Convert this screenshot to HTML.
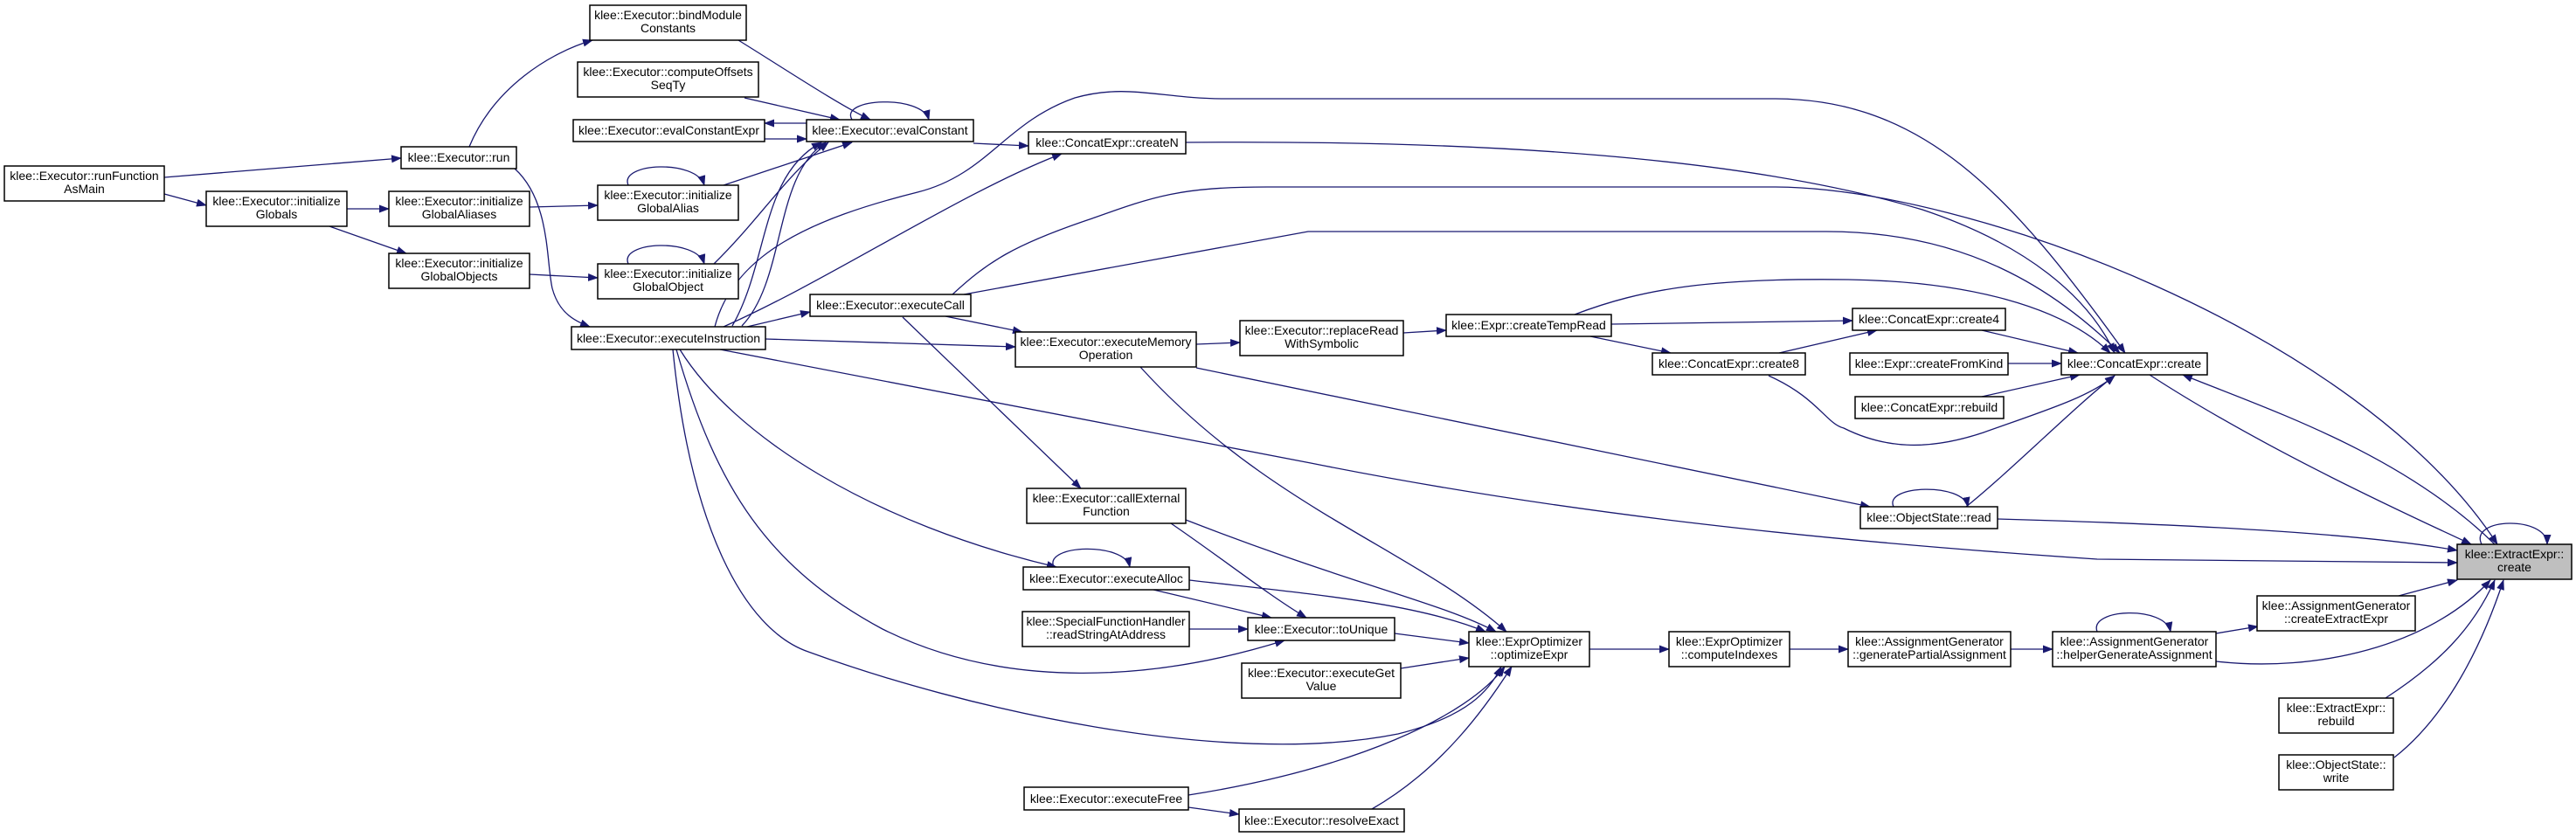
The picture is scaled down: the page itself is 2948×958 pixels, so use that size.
<!DOCTYPE html>
<html><head><meta charset="utf-8"><style>
html,body{margin:0;padding:0;background:#fff;}
svg{display:block;}
text{font-family:"Liberation Sans",Arial,sans-serif;font-size:14px;fill:#000;}
.e{fill:none;stroke:#191970;stroke-width:1.3;}
.n{fill:#fff;stroke:#000;stroke-width:1.5;}
</style></head><body>
<svg width="2948" height="958" viewBox="0 0 2948 958" xmlns="http://www.w3.org/2000/svg">
<defs><marker id="a" markerWidth="12" markerHeight="9" refX="11" refY="4.5" orient="auto" markerUnits="userSpaceOnUse"><path d="M0,0 L12,4.5 L0,9z" fill="#191970"/></marker></defs>
<g marker-end="url(#a)">
<path class="e" d="M188,203 L459,181"/>
<path class="e" d="M188,222 L236,235"/>
<path class="e" d="M397,239 L445,239"/>
<path class="e" d="M377,259 L465,290"/>
<path class="e" d="M606,237 L684,235"/>
<path class="e" d="M606,314 L684,318"/>
<path class="e" d="M537,168 C565,100 630,60 678,46"/>
<path class="e" d="M589,193 C630,230 625,300 632,330 C640,360 660,368 675,374"/>
<path class="e" d="M845,46 C900,80 960,120 996,137"/>
<path class="e" d="M852,112 L961,137"/>
<path class="e" d="M923,141 L875,141"/>
<path class="e" d="M875,159 L923,159"/>
<path class="e" d="M975,137 C960,112 1055,108 1063,137"/>
<path class="e" d="M719,212 C708,186 797,182 806,212"/>
<path class="e" d="M719,302 C708,276 797,272 806,302"/>
<path class="e" d="M828,212 L975,163"/>
<path class="e" d="M817,302 C870,250 900,200 948,163"/>
<path class="e" d="M838,373 C880,300 870,200 940,163"/>
<path class="e" d="M849,373 C900,320 885,200 945,163"/>
<path class="e" d="M855,374 L927,357"/>
<path class="e" d="M828,374 C950,320 1100,220 1215,176"/>
<path class="e" d="M818,374 C840,290 930,250 1050,220 C1130,200 1150,140 1230,112 C1290,95 1330,113 1400,113 L2030,113 C2200,113 2300,220 2432,404"/>
<path class="e" d="M1090,337 C1130,300 1160,280 1250,250 C1320,225 1350,214 1450,214 L2030,214 C2250,214 2700,380 2858,623"/>
<path class="e" d="M1103,337 L1497,265 L2090,265 C2250,265 2350,330 2426,404"/>
<path class="e" d="M1354,163 C1700,160 2000,180 2200,240 C2320,280 2390,340 2420,404"/>
<path class="e" d="M1114,164 L1177,167"/>
<path class="e" d="M876,388 L1162,397"/>
<path class="e" d="M1082,362 L1170,380"/>
<path class="e" d="M1033,363 L1237,559"/>
<path class="e" d="M1369,394 L1419,392"/>
<path class="e" d="M1606,381 L1655,378"/>
<path class="e" d="M1844,371 L2120,367"/>
<path class="e" d="M1820,385 L1912,404"/>
<path class="e" d="M2036,404 L2148,378"/>
<path class="e" d="M1802,360 C1880,330 1960,318 2115,320 C2250,322 2360,350 2415,404"/>
<path class="e" d="M2268,378 L2378,404"/>
<path class="e" d="M2298,416 L2359,416"/>
<path class="e" d="M2268,454 L2380,429"/>
<path class="e" d="M2024,430 C2080,455 2090,485 2110,490 C2160,515 2210,515 2270,495 C2340,470 2390,455 2420,430"/>
<path class="e" d="M2250,580 C2300,540 2380,460 2420,430"/>
<path class="e" d="M2167,580 C2155,555 2247,552 2252,580"/>
<path class="e" d="M1369,421 L2140,580"/>
<path class="e" d="M824,400 L1500,530 C1800,590 2100,620 2400,640 L2812,644"/>
<path class="e" d="M2286,594 C2500,600 2700,610 2812,630"/>
<path class="e" d="M2460,429 C2600,520 2780,600 2828,623"/>
<path class="e" d="M2855,623 C2750,520 2600,470 2498,429"/>
<path class="e" d="M2840,623 C2825,592 2915,590 2915,623"/>
<path class="e" d="M2745,682 L2812,664"/>
<path class="e" d="M2536,757 C2650,770 2780,740 2850,664"/>
<path class="e" d="M2730,799 C2790,760 2830,720 2855,664"/>
<path class="e" d="M2740,867 C2800,820 2840,740 2865,664"/>
<path class="e" d="M2536,725 L2584,717"/>
<path class="e" d="M2400,723 C2390,696 2478,693 2484,723"/>
<path class="e" d="M2301,743 L2349,743"/>
<path class="e" d="M2048,743 L2115,743"/>
<path class="e" d="M1819,743 L1910,743"/>
<path class="e" d="M1305,420 C1450,580 1620,630 1724,723"/>
<path class="e" d="M1357,595 C1550,670 1650,690 1712,723"/>
<path class="e" d="M1361,664 C1500,680 1620,690 1700,723"/>
<path class="e" d="M1596,725 L1681,736"/>
<path class="e" d="M1603,765 L1681,753"/>
<path class="e" d="M770,400 C790,600 850,720 925,746 C1100,810 1400,880 1600,840 C1680,820 1705,790 1718,763"/>
<path class="e" d="M1360,910 C1550,880 1680,820 1722,763"/>
<path class="e" d="M1570,926 C1650,880 1700,810 1730,763"/>
<path class="e" d="M1360,924 L1418,932"/>
<path class="e" d="M1320,675 L1455,707"/>
<path class="e" d="M1340,599 C1400,640 1450,680 1495,707"/>
<path class="e" d="M1361,720 L1428,720"/>
<path class="e" d="M774,400 C820,560 880,650 1010,720 C1150,790 1320,780 1470,733"/>
<path class="e" d="M778,400 C840,500 1000,600 1209,649"/>
<path class="e" d="M1206,649 C1194,623 1287,620 1293,649"/>
</g>
<g>
<rect class="n" x="5" y="190" width="183" height="40"/><text x="96.5" y="206" text-anchor="middle">klee::Executor::runFunction</text><text x="96.5" y="221" text-anchor="middle">AsMain</text>
<rect class="n" x="236" y="219" width="161" height="40"/><text x="316.5" y="235" text-anchor="middle">klee::Executor::initialize</text><text x="316.5" y="250" text-anchor="middle">Globals</text>
<rect class="n" x="459" y="168" width="132" height="25"/><text x="525" y="185" text-anchor="middle">klee::Executor::run</text>
<rect class="n" x="445" y="219" width="161" height="40"/><text x="525.5" y="235" text-anchor="middle">klee::Executor::initialize</text><text x="525.5" y="250" text-anchor="middle">GlobalAliases</text>
<rect class="n" x="445" y="290" width="161" height="40"/><text x="525.5" y="306" text-anchor="middle">klee::Executor::initialize</text><text x="525.5" y="321" text-anchor="middle">GlobalObjects</text>
<rect class="n" x="675" y="6" width="179" height="40"/><text x="764.5" y="22" text-anchor="middle">klee::Executor::bindModule</text><text x="764.5" y="37" text-anchor="middle">Constants</text>
<rect class="n" x="661" y="71" width="207" height="40"/><text x="764.5" y="87" text-anchor="middle">klee::Executor::computeOffsets</text><text x="764.5" y="102" text-anchor="middle">SeqTy</text>
<rect class="n" x="656" y="137" width="219" height="25"/><text x="765.5" y="154" text-anchor="middle">klee::Executor::evalConstantExpr</text>
<rect class="n" x="923" y="137" width="191" height="25"/><text x="1018.5" y="154" text-anchor="middle">klee::Executor::evalConstant</text>
<rect class="n" x="684" y="212" width="161" height="40"/><text x="764.5" y="228" text-anchor="middle">klee::Executor::initialize</text><text x="764.5" y="243" text-anchor="middle">GlobalAlias</text>
<rect class="n" x="684" y="302" width="161" height="40"/><text x="764.5" y="318" text-anchor="middle">klee::Executor::initialize</text><text x="764.5" y="333" text-anchor="middle">GlobalObject</text>
<rect class="n" x="654" y="374" width="222" height="26"/><text x="765" y="392" text-anchor="middle">klee::Executor::executeInstruction</text>
<rect class="n" x="927" y="337" width="184" height="25"/><text x="1019" y="354" text-anchor="middle">klee::Executor::executeCall</text>
<rect class="n" x="1177" y="151" width="180" height="25"/><text x="1267" y="168" text-anchor="middle">klee::ConcatExpr::createN</text>
<rect class="n" x="1162" y="380" width="207" height="40"/><text x="1265.5" y="396" text-anchor="middle">klee::Executor::executeMemory</text><text x="1265.5" y="411" text-anchor="middle">Operation</text>
<rect class="n" x="1419" y="367" width="187" height="40"/><text x="1512.5" y="383" text-anchor="middle">klee::Executor::replaceRead</text><text x="1512.5" y="398" text-anchor="middle">WithSymbolic</text>
<rect class="n" x="1655" y="360" width="189" height="25"/><text x="1749.5" y="377" text-anchor="middle">klee::Expr::createTempRead</text>
<rect class="n" x="1891" y="404" width="175" height="25"/><text x="1978.5" y="421" text-anchor="middle">klee::ConcatExpr::create8</text>
<rect class="n" x="2120" y="353" width="175" height="25"/><text x="2207.5" y="370" text-anchor="middle">klee::ConcatExpr::create4</text>
<rect class="n" x="2117" y="404" width="181" height="25"/><text x="2207.5" y="421" text-anchor="middle">klee::Expr::createFromKind</text>
<rect class="n" x="2359" y="404" width="167" height="25"/><text x="2442.5" y="421" text-anchor="middle">klee::ConcatExpr::create</text>
<rect class="n" x="2123" y="454" width="170" height="25"/><text x="2208" y="471" text-anchor="middle">klee::ConcatExpr::rebuild</text>
<rect class="n" x="1175" y="559" width="182" height="40"/><text x="1266" y="575" text-anchor="middle">klee::Executor::callExternal</text><text x="1266" y="590" text-anchor="middle">Function</text>
<rect class="n" x="1171" y="649" width="190" height="26"/><text x="1266" y="667" text-anchor="middle">klee::Executor::executeAlloc</text>
<rect class="n" x="1170" y="700" width="191" height="40"/><text x="1265.5" y="716" text-anchor="middle">klee::SpecialFunctionHandler</text><text x="1265.5" y="731" text-anchor="middle">::readStringAtAddress</text>
<rect class="n" x="1428" y="707" width="168" height="26"/><text x="1512" y="725" text-anchor="middle">klee::Executor::toUnique</text>
<rect class="n" x="1681" y="723" width="138" height="40"/><text x="1750" y="739" text-anchor="middle">klee::ExprOptimizer</text><text x="1750" y="754" text-anchor="middle">::optimizeExpr</text>
<rect class="n" x="1421" y="759" width="182" height="40"/><text x="1512" y="775" text-anchor="middle">klee::Executor::executeGet</text><text x="1512" y="790" text-anchor="middle">Value</text>
<rect class="n" x="1172" y="901" width="188" height="26"/><text x="1266" y="919" text-anchor="middle">klee::Executor::executeFree</text>
<rect class="n" x="1418" y="926" width="189" height="26"/><text x="1512.5" y="944" text-anchor="middle">klee::Executor::resolveExact</text>
<rect class="n" x="1910" y="723" width="138" height="40"/><text x="1979" y="739" text-anchor="middle">klee::ExprOptimizer</text><text x="1979" y="754" text-anchor="middle">::computeIndexes</text>
<rect class="n" x="2115" y="723" width="186" height="40"/><text x="2208" y="739" text-anchor="middle">klee::AssignmentGenerator</text><text x="2208" y="754" text-anchor="middle">::generatePartialAssignment</text>
<rect class="n" x="2349" y="723" width="187" height="40"/><text x="2442.5" y="739" text-anchor="middle">klee::AssignmentGenerator</text><text x="2442.5" y="754" text-anchor="middle">::helperGenerateAssignment</text>
<rect class="n" x="2583" y="682" width="181" height="40"/><text x="2673.5" y="698" text-anchor="middle">klee::AssignmentGenerator</text><text x="2673.5" y="713" text-anchor="middle">::createExtractExpr</text>
<rect class="n" x="2129" y="580" width="157" height="25"/><text x="2207.5" y="597" text-anchor="middle">klee::ObjectState::read</text>
<rect class="n" x="2812" y="623" width="131" height="40" style="fill:#bfbfbf"/><text x="2877.5" y="639" text-anchor="middle">klee::ExtractExpr::</text><text x="2877.5" y="654" text-anchor="middle">create</text>
<rect class="n" x="2608" y="799" width="131" height="40"/><text x="2673.5" y="815" text-anchor="middle">klee::ExtractExpr::</text><text x="2673.5" y="830" text-anchor="middle">rebuild</text>
<rect class="n" x="2608" y="864" width="131" height="40"/><text x="2673.5" y="880" text-anchor="middle">klee::ObjectState::</text><text x="2673.5" y="895" text-anchor="middle">write</text>
</g>
</svg>
</body></html>
